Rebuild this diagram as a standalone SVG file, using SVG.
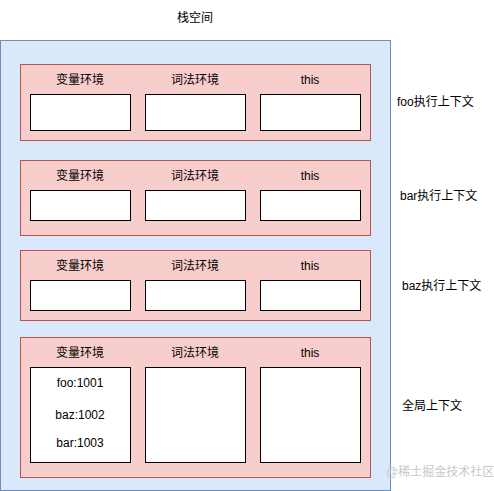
<svg xmlns="http://www.w3.org/2000/svg" width="494" height="491" viewBox="0 0 494 491">
<style>
text{font-family:"Liberation Sans","Noto Sans CJK SC",sans-serif;font-size:12px;fill:#000;}
.c{text-anchor:middle;}
.stack{fill:#dae8fc;stroke:#6c8ebf;stroke-width:1;}
.frame{fill:#f8cecc;stroke:#b85450;stroke-width:1;}
.box{fill:#fff;stroke:#000;stroke-width:1;}
.wm{fill:#c8c8c8;font-size:12px;}
</style>
<rect width="494" height="491" fill="#fff"/>
<g id="stack">
<rect class="stack" x="0.5" y="40.5" width="390" height="450"/>
<text class="c" x="195" y="22">栈空间</text>
</g>
<g id="foo-context">
<rect class="frame" x="20.5" y="64.5" width="350" height="76"/>
<text class="c" x="80" y="84">变量环境</text>
<text class="c" x="195" y="84">词法环境</text>
<text class="c" x="310" y="84">this</text>
<rect class="box" x="30.5" y="94.5" width="100" height="36"/>
<rect class="box" x="145.5" y="94.5" width="100" height="36"/>
<rect class="box" x="260.5" y="94.5" width="100" height="36"/>
<text x="397" y="106">foo执行上下文</text>
</g>
<g id="bar-context">
<rect class="frame" x="20.5" y="160.5" width="350" height="75"/>
<text class="c" x="80" y="180">变量环境</text>
<text class="c" x="195" y="180">词法环境</text>
<text class="c" x="310" y="180">this</text>
<rect class="box" x="30.5" y="190.5" width="100" height="30"/>
<rect class="box" x="145.5" y="190.5" width="100" height="30"/>
<rect class="box" x="260.5" y="190.5" width="100" height="30"/>
<text x="400" y="200">bar执行上下文</text>
</g>
<g id="baz-context">
<rect class="frame" x="20.5" y="250.5" width="350" height="70"/>
<text class="c" x="80" y="270">变量环境</text>
<text class="c" x="195" y="270">词法环境</text>
<text class="c" x="310" y="270">this</text>
<rect class="box" x="30.5" y="280.5" width="100" height="30"/>
<rect class="box" x="145.5" y="280.5" width="100" height="30"/>
<rect class="box" x="260.5" y="280.5" width="100" height="30"/>
<text x="402" y="290">baz执行上下文</text>
</g>
<g id="global-context">
<rect class="frame" x="20.5" y="337.5" width="350" height="140"/>
<text class="c" x="80" y="357">变量环境</text>
<text class="c" x="195" y="357">词法环境</text>
<text class="c" x="310" y="357">this</text>
<rect class="box" x="30.5" y="367.5" width="100" height="95"/>
<rect class="box" x="145.5" y="367.5" width="100" height="95"/>
<rect class="box" x="260.5" y="367.5" width="100" height="95"/>
<text class="c" x="80" y="387">foo:1001</text>
<text class="c" x="80" y="419">baz:1002</text>
<text class="c" x="80" y="447">bar:1003</text>
<text x="402" y="410">全局上下文</text>
</g>
<text class="wm" x="386" y="476">@稀土掘金技术社区</text>
</svg>
